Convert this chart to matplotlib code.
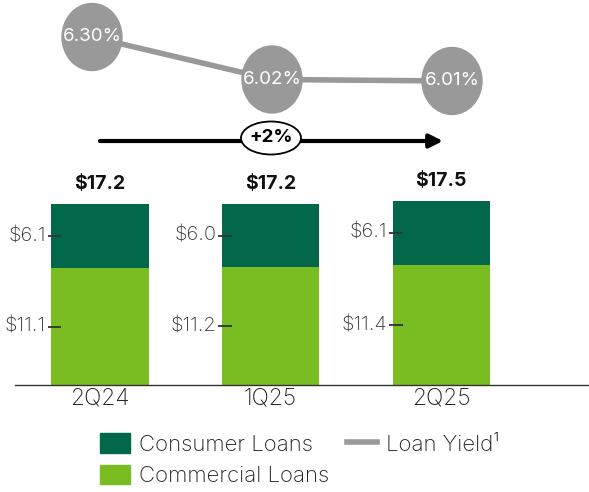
'''Loans by quarter with loan yield overlay'''
import matplotlib
matplotlib.use("Agg")
import matplotlib.pyplot as plt
from matplotlib.patches import Ellipse, Patch
from matplotlib.lines import Line2D

plt.rcParams['font.family'] = ['Inter', 'DejaVu Sans']

# data
quarters = ['2Q24', '1Q25', '2Q25']
commercial = [11.1, 11.2, 11.4]
consumer = [6.1, 6.0, 6.1]
totals = [17.2, 17.2, 17.5]
loan_yield = [6.30, 6.02, 6.01]
growth_label = '+2%'

DARK_GREEN = '#03684A'
LIGHT_GREEN = '#7ABD22'
GREY = '#999999'

W, H = 589, 492
fig = plt.figure(figsize=(W / 100, H / 100), dpi=100)


def px_axes(left, top, right, bottom):
    '''Axes placed using pixel edges measured from the top-left corner'''
    return fig.add_axes([left / W, 1 - bottom / H, (right - left) / W, (bottom - top) / H])


# --- stacked bars ---
ax = px_axes(15, 120, 589, 385)
px_x = 170.5       # pixels per category step
px_y = 10.52       # pixels per $1
ax.set_xlim(-(100 - 15) / px_x, (589 - 100) / px_x)
ax.set_ylim(0, 265 / px_y)
width = 97 / px_x
x = range(len(quarters))
ax.bar(x, commercial, width=width, color=LIGHT_GREEN)
ax.bar(x, consumer, width=width, bottom=commercial, color=DARK_GREEN)

for i in x:
    ax.annotate(f'${totals[i]}', (i, totals[i]), xytext=(0, 8), textcoords='offset points',
                ha='center', va='bottom', fontsize=14, fontweight='bold', color='#111111')
    left = i - width / 2
    for val, mid in [(consumer[i], commercial[i] + consumer[i] / 2),
                     (commercial[i], commercial[i] / 2)]:
        ax.plot([left - 4 / px_x, left + 10 / px_x], [mid, mid], color='#333333', lw=1.3,
                solid_capstyle='butt', zorder=3)
        ax.annotate(f'${val:.1f}', (left, mid), xytext=(-4, 0), textcoords='offset points',
                    ha='right', va='center', fontsize=14.5, fontweight='light', color='#333333')

ax.set_xticks(list(x))
ax.set_xticklabels(quarters, fontsize=16.5, fontweight='light', color='#222222')
ax.tick_params(axis='x', length=0, pad=2)
ax.set_yticks([])
for side in ['top', 'right', 'left']:
    ax.spines[side].set_visible(False)
ax.spines['bottom'].set_color('#333333')
ax.spines['bottom'].set_linewidth(1.0)
ax.patch.set_alpha(0)

# --- loan yield line ---
lx = px_axes(0, 0, 589, 130)
step = 180
ppu = 151.7
lx.set_xlim(-92 / step, (589 - 92) / step)
lx.set_ylim(6.30 - 93 / ppu, 6.30 + 37 / ppu)
lx.plot(range(len(loan_yield)), loan_yield, color=GREY, lw=4, zorder=1)
for i, v in enumerate(loan_yield):
    lx.add_patch(Ellipse((i, v), 60 / step, 67 / ppu, color=GREY, zorder=2))
    lx.text(i, v, f'{v:.2f}%', ha='center', va='center', color='white', fontsize=13.5, zorder=3)
lx.axis('off')

# --- growth arrow and legend on a pixel overlay ---
ov = fig.add_axes([0, 0, 1, 1])
ov.set_xlim(0, W)
ov.set_ylim(H, 0)
ov.axis('off')
ov.annotate('', xy=(443, 141), xytext=(100, 141),
            arrowprops=dict(arrowstyle='-|>,head_length=0.8,head_width=0.4', color='black', lw=3,
                            shrinkA=0, shrinkB=0))
ov.add_patch(Ellipse((271, 138), 60, 33, facecolor='white', edgecolor='black', lw=1.3, zorder=3))
ov.text(271, 137, growth_label, ha='center', va='center', fontsize=13.5, fontweight='bold', zorder=4)

handles = [Patch(color=DARK_GREEN), Patch(color=LIGHT_GREEN), Line2D([], [], color=GREY, lw=4)]
labels = ['Consumer Loans', 'Commercial Loans', 'Loan Yield¹']
fig.legend(handles, labels, ncol=2, frameon=False, loc='upper left',
           bbox_to_anchor=(100 / W, 1 - 433 / H), handlelength=1.35,
           handleheight=1.0, handletextpad=0.4, columnspacing=0.8, labelspacing=0.45,
           borderpad=0, borderaxespad=0, labelcolor='#222222',
           prop={'weight': 'light', 'size': 16})

fig.savefig('out.png', dpi=100, facecolor='white')
